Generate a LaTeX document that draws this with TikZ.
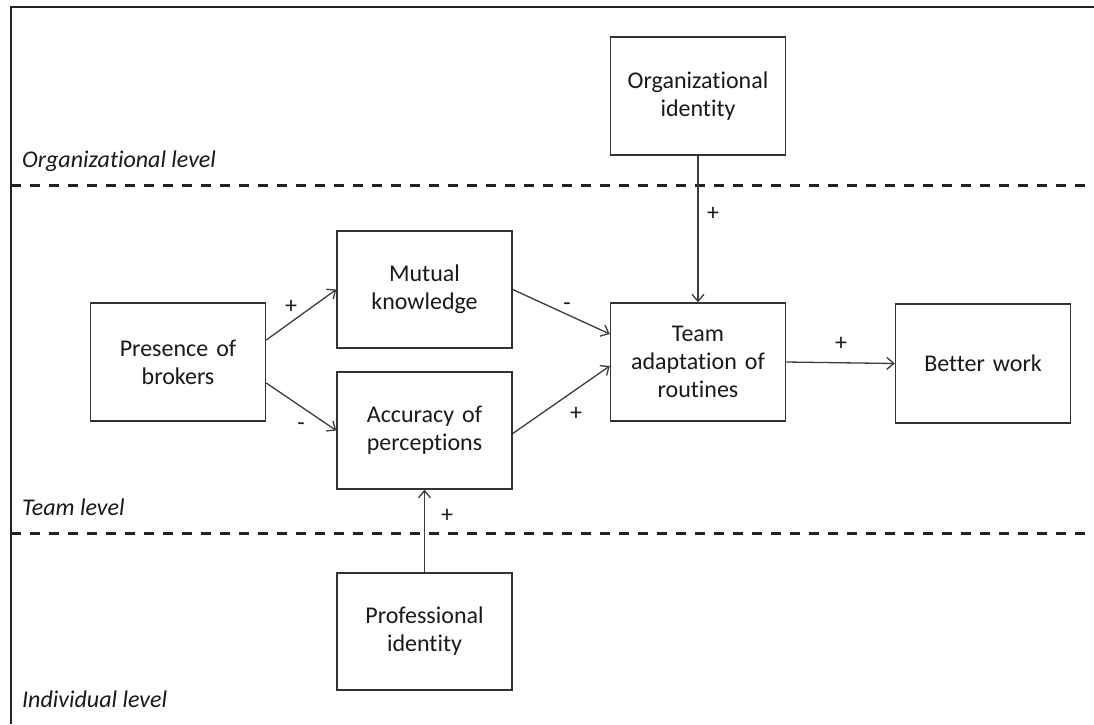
\documentclass[tikz,border=0pt]{standalone}
\usepackage{fontspec}
\setmainfont{Carlito}[Ligatures={NoCommon,NoRequired,NoContextual,NoDiscretionary}]
\usetikzlibrary{arrows.meta,calc}
\definecolor{boxc}{HTML}{333333}
\definecolor{arrc}{HTML}{3C3C3C}
\definecolor{txtc}{HTML}{1A1A1A}
\definecolor{linec}{HTML}{222222}
\begin{document}
\begin{tikzpicture}[x=1pt,y=-1pt,
  box/.style={draw=boxc,line width=1.5pt,minimum width=175pt,minimum height=117pt,inner sep=0pt,align=center,text width=170pt,font=\fontsize{24}{28}\selectfont,text=txtc},
  conn/.style={draw=arrc,line width=1.3pt,-{Straight Barb[length=7pt,width=12pt]}},
  signlbl/.style={anchor=base,font=\fontsize{24}{28}\selectfont,inner sep=0pt,text=txtc},
  lvl/.style={anchor=base west,font=\fontsize{24}{28}\selectfont\itshape,inner sep=0pt,text=txtc},
  levelsep/.style={draw=linec,line width=3pt,dash pattern=on 10pt off 9pt},
  frameline/.style={draw=linec,line width=2.5pt}]
\fill[white] (0,0) rectangle (1094,724);
\useasboundingbox (0,0) rectangle (1094,724);

% frame
\coordinate (ftl) at (11,7);
\coordinate (ftr) at (1094,7);
\coordinate (fbl) at (11,724);
\draw[frameline] (ftr) -- (ftl) -- (fbl);

% level separators
\coordinate (s1l) at (11,185);
\coordinate (s1r) at (1094,185);
\coordinate (s2l) at (11,533);
\coordinate (s2r) at (1094,533);
\draw[levelsep] (s1l) -- (s1r);
\draw[levelsep] (s2l) -- (s2r);

% level labels
\node[lvl] (lorg) at (22,167) {Organizational level};
\node[lvl] (lteam) at (22,515) {Team level};
\node[lvl] (lind) at (22,707) {Individual level};

% boxes
\node[box,minimum height=118pt] (o) at (698,96) {Organizational\\identity};
\node[box] (m) at (424.5,289.5) {Mutual\\knowledge};
\node[box,minimum height=118pt] (p) at (178,362) {Presence of\\brokers};
\node[box] (a) at (424.5,430.5) {Accuracy of\\perceptions};
\node[box,minimum height=118pt] (t) at (698,362) {Team\\adaptation of\\routines};
\node[box,minimum height=119pt] (b) at (983,363.5) {Better work};
\node[box] (pr) at (424.5,631.5) {Professional\\identity};

% connectors
\draw[conn] ([yshift=22pt]p.east) -- (m.west);
\draw[conn] ([yshift=-21pt]p.east) -- (a.west);
\draw[conn] (m.east) -- ([yshift=28pt]t.west);
\draw[conn] ([yshift=-3pt]a.east) -- ([yshift=-4pt]t.west);
\draw[conn] (t.east) -- (b.west);
\draw[conn] (o.south) -- (t.north);
\draw[conn] (pr.north) -- (a.south);

% signs
\node[signlbl] (g1) at (291,313) {+};
\node[signlbl] (g2) at (301,430) {-};
\node[signlbl] (g3) at (567,310) {-};
\node[signlbl] (g4) at (576,420) {+};
\node[signlbl] (g5) at (841,350) {+};
\node[signlbl] (g6) at (713,220) {+};
\node[signlbl] (g7) at (447,522) {+};
\end{tikzpicture}
\end{document}
